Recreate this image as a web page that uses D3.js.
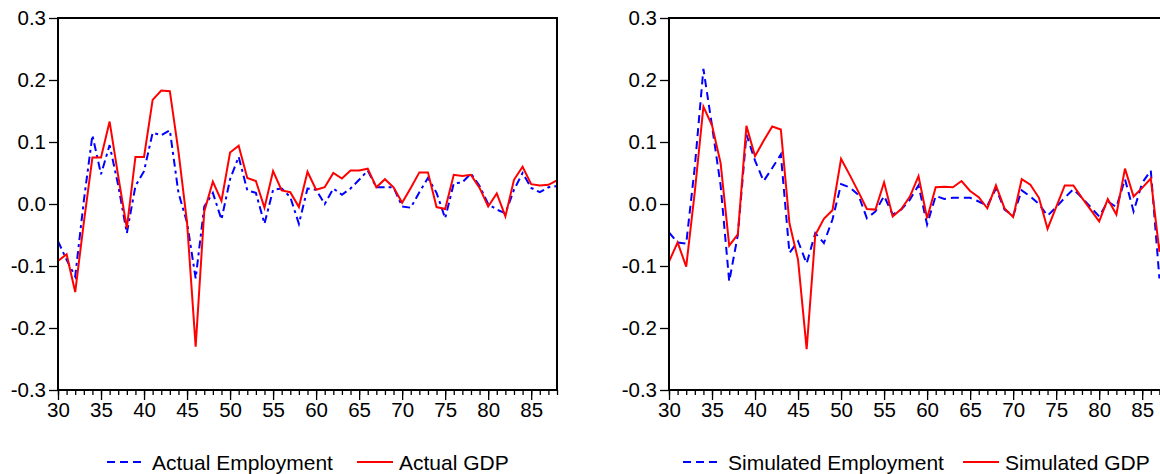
<!DOCTYPE html>
<html>
<head>
<meta charset="utf-8">
<script src="https://cdn.jsdelivr.net/npm/d3@7"></script>
<style>
  body { margin: 0; background: #fff; }
  svg { display: block; font-family: "Liberation Sans", Arial, sans-serif; }
</style>
</head>
<body>
<div id="chart"></div>
<script>
// years on the x axis
const years = [30, 31, 32, 33, 34, 35, 36, 37, 38, 39, 40, 41, 42, 43, 44, 45, 46, 47, 48, 49,
  50, 51, 52, 53, 54, 55, 56, 57, 58, 59, 60, 61, 62, 63, 64, 65, 66, 67, 68, 69,
  70, 71, 72, 73, 74, 75, 76, 77, 78, 79, 80, 81, 82, 83, 84, 85, 86, 87, 88];

const actualEmployment = [-0.06, -0.09, -0.117, 0.005, 0.111, 0.048, 0.095, 0.03, -0.047, 0.029,
  0.053, 0.115, 0.111, 0.119, 0.018, -0.03, -0.12, -0.004, 0.018, -0.025,
  0.04, 0.076, 0.022, 0.018, -0.032, 0.023, 0.025, 0.011, -0.032, 0.025,
  0.023, 0.0, 0.025, 0.015, 0.025, 0.039, 0.054, 0.027, 0.027, 0.027,
  -0.004, -0.006, 0.019, 0.042, 0.018, -0.023, 0.033, 0.035, 0.049, 0.029,
  0.0, -0.009, -0.015, 0.023, 0.05, 0.026, 0.019, 0.027, 0.029];

const actualGDP = [-0.092, -0.081, -0.142, -0.03, 0.075, 0.075, 0.133, 0.045, -0.039, 0.076,
  0.076, 0.168, 0.183, 0.182, 0.085, -0.03, -0.23, -0.012, 0.036, 0.005,
  0.083, 0.094, 0.042, 0.037, -0.006, 0.053, 0.022, 0.019, -0.005, 0.052,
  0.023, 0.027, 0.05, 0.041, 0.054, 0.054, 0.057, 0.027, 0.04, 0.027,
  0.002, 0.026, 0.051, 0.051, -0.005, -0.008, 0.047, 0.045, 0.047, 0.026,
  -0.004, 0.017, -0.02, 0.039, 0.06, 0.032, 0.03, 0.031, 0.038];

const simEmployment = [-0.046, -0.062, -0.064, 0.06, 0.218, 0.126, 0.03, -0.125, -0.05, 0.112,
  0.07, 0.037, 0.058, 0.08, -0.079, -0.06, -0.096, -0.047, -0.063, -0.025,
  0.032, 0.027, 0.015, -0.023, -0.012, 0.013, -0.017, -0.009, 0.007, 0.03,
  -0.033, 0.013, 0.008, 0.01, 0.01, 0.01, 0.004, -0.003, 0.025, -0.009,
  -0.019, 0.022, 0.012, 0.0, -0.019, -0.005, 0.01, 0.024, 0.01, -0.005,
  -0.02, 0.004, -0.005, 0.04, -0.012, 0.034, 0.054, -0.12, -0.03];

const simGDP = [-0.093, -0.062, -0.101, 0.02, 0.157, 0.127, 0.066, -0.067, -0.049, 0.126,
  0.077, 0.102, 0.125, 0.12, -0.031, -0.09, -0.234, -0.05, -0.024, -0.01,
  0.073, 0.047, 0.02, -0.008, -0.009, 0.035, -0.02, -0.008, 0.012, 0.045,
  -0.023, 0.027, 0.028, 0.027, 0.037, 0.021, 0.011, -0.007, 0.03, -0.007,
  -0.021, 0.04, 0.031, 0.01, -0.04, -0.005, 0.03, 0.03, 0.01, -0.009,
  -0.028, 0.008, -0.017, 0.057, 0.012, 0.026, 0.041, -0.077, -0.005];

const yTicks = [-0.3, -0.2, -0.1, 0.0, 0.1, 0.2, 0.3];
const xMajorTicks = [30, 35, 40, 45, 50, 55, 60, 65, 70, 75, 80, 85];

const W = 1160, H = 474;
const svg = d3.select("#chart").append("svg")
  .attr("width", W)
  .attr("height", H);

const panels = [
  { left: 58, emp: actualEmployment, gdp: actualGDP, dash: "8,4,3,4",
    labels: ["Actual Employment", "Actual GDP"], legendX: 107, legend2X: 357 },
  { left: 669, emp: simEmployment, gdp: simGDP, dash: "8,5",
    labels: ["Simulated Employment", "Simulated GDP"], legendX: 683, legend2X: 963 }
];

const plotW = 499, plotTop = 18, plotH = 372;
const fontStack = "'Liberation Sans', Arial, sans-serif";

panels.forEach(p => {
  const g = svg.append("g").attr("transform", `translate(${p.left},${plotTop})`);

  const x = d3.scaleLinear().domain([30, 88]).range([0, plotW]);
  const y = d3.scaleLinear().domain([-0.3, 0.3]).range([plotH, 0]);

  // y axis
  const ya = g.append("g")
    .call(d3.axisLeft(y).tickValues(yTicks).tickSize(9).tickPadding(3)
      .tickFormat(d => d.toFixed(1)));
  ya.select(".domain").remove();
  ya.selectAll("line").attr("stroke", "#000").attr("stroke-width", 1.3);
  ya.selectAll("text")
    .style("font-family", fontStack).style("font-size", "20.5px").attr("fill", "#000");

  // x axis: minor ticks every year, labels every 5
  const xminor = g.append("g").attr("transform", `translate(0,${plotH})`)
    .call(d3.axisBottom(x).tickValues(years).tickSize(5).tickFormat(""));
  xminor.select(".domain").remove();
  xminor.selectAll("line").attr("stroke", "#000").attr("stroke-width", 1.3);

  const xmajor = g.append("g").attr("transform", `translate(0,${plotH})`)
    .call(d3.axisBottom(x).tickValues(xMajorTicks).tickSize(10).tickPadding(2)
      .tickFormat(d => d));
  xmajor.select(".domain").remove();
  xmajor.selectAll("line").attr("stroke", "#000").attr("stroke-width", 1.3);
  xmajor.selectAll("text")
    .style("font-family", fontStack).style("font-size", "20.5px").attr("fill", "#000");

  const line = d3.line()
    .x((d, i) => x(years[i]))
    .y(d => y(d));

  g.append("path")
    .datum(p.emp)
    .attr("d", line)
    .attr("fill", "none")
    .attr("stroke", "#0000ff")
    .attr("stroke-width", 2)
    .attr("stroke-dasharray", p.dash);

  g.append("path")
    .datum(p.gdp)
    .attr("d", line)
    .attr("fill", "none")
    .attr("stroke", "#ff0000")
    .attr("stroke-width", 2);

  // frame
  g.append("rect")
    .attr("width", plotW)
    .attr("height", plotH)
    .attr("fill", "none")
    .attr("stroke", "#000")
    .attr("stroke-width", 2);

  // legend
  const lg = svg.append("g");
  const ly = 462;
  lg.append("line")
    .attr("x1", p.legendX).attr("x2", p.legendX + 36)
    .attr("y1", ly).attr("y2", ly)
    .attr("stroke", "#0000ff").attr("stroke-width", 2)
    .attr("stroke-dasharray", "8,5");
  lg.append("text")
    .attr("x", p.legendX + 45).attr("y", ly + 8)
    .style("font-family", fontStack).style("font-size", "21px")
    .text(p.labels[0]);
  lg.append("line")
    .attr("x1", p.legend2X).attr("x2", p.legend2X + 36)
    .attr("y1", ly).attr("y2", ly)
    .attr("stroke", "#ff0000").attr("stroke-width", 2);
  lg.append("text")
    .attr("x", p.legend2X + 42).attr("y", ly + 8)
    .style("font-family", fontStack).style("font-size", "21px")
    .text(p.labels[1]);
});
</script>
</body>
</html>
